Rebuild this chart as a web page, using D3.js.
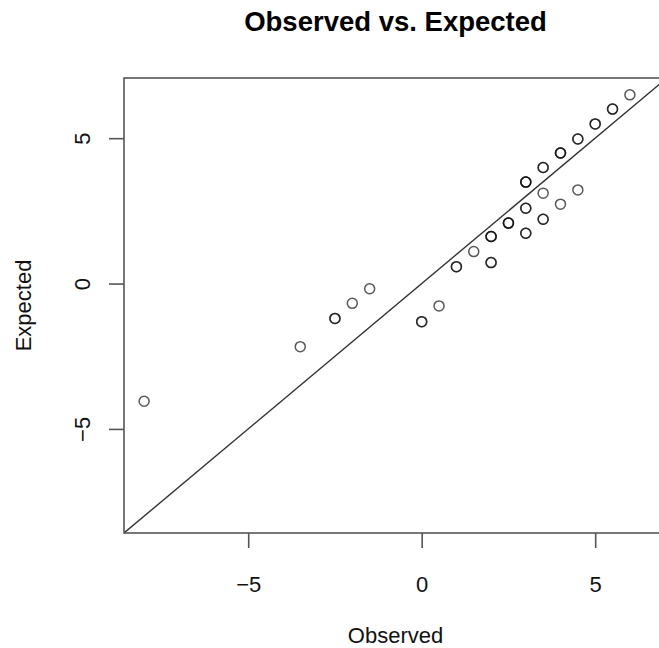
<!DOCTYPE html>
<html>
<head>
<meta charset="utf-8">
<script src="https://cdn.jsdelivr.net/npm/d3@7"></script>
<style>
  html, body { margin: 0; padding: 0; background: #fff; }
  svg { display: block; font-family: "Liberation Sans", Arial, sans-serif; }
</style>
</head>
<body>
<div id="chart"></div>
<script>
// observed / expected pairs; counts = how many points sit on the same spot
const observed = [-8, -3.5, -2.5, -2, -1.5, 0, 0.5, 1, 1.5, 2, 2, 2.5, 3, 3, 3, 3.5, 3.5, 3.5, 4, 4, 4.5, 4.5, 5, 5.5, 6];
const expected = [-4.05, -2.17, -1.2, -0.68, -0.18, -1.31, -0.77, 0.58, 1.1, 0.72, 1.62, 2.08, 1.73, 2.59, 3.49, 2.21, 3.11, 3.99, 2.73, 4.49, 3.22, 4.97, 5.49, 6.0, 6.49];
const counts   = [1, 1, 2, 1, 1, 2, 1, 2, 1, 2, 3, 3, 2, 2, 3, 2, 1, 2, 1, 3, 1, 2, 2, 2, 1];

const tickValues = [-5, 0, 5];
const title = "Observed vs. Expected";
const xTitle = "Observed";
const yTitle = "Expected";

// set the dimensions and margins of the plot
const width = 659, height = 648;
const margin = { top: 78, right: -8, bottom: 115, left: 124 };

// R-style limits: common range of both variables, padded by 4%
const all = observed.concat(expected);
const [lo, hi] = d3.extent(all);
const pad = (hi - lo) * 0.04;
const lim = [lo - pad, hi + pad];

const x = d3.scaleLinear().domain(lim).range([margin.left, width - margin.right]);
const y = d3.scaleLinear().domain(lim).range([height - margin.bottom, margin.top]);

const points = [];
observed.forEach((o, i) => {
    for (let k = 0; k < counts[i]; k++) points.push({ obs: o, exp: expected[i] });
});

const svg = d3.select("#chart").append("svg")
    .attr("width", width)
    .attr("height", height);

svg.append("clipPath")
    .attr("id", "plot-area")
    .append("rect")
    .attr("x", x.range()[0])
    .attr("y", y.range()[1])
    .attr("width", x.range()[1] - x.range()[0])
    .attr("height", y.range()[0] - y.range()[1]);

// identity line y = x
svg.append("line")
    .attr("clip-path", "url(#plot-area)")
    .attr("x1", x(lim[0])).attr("y1", y(lim[0]))
    .attr("x2", x(lim[1])).attr("y2", y(lim[1]))
    .attr("stroke", "#333")
    .attr("stroke-width", 1.4);

svg.append("g")
    .attr("fill", "none")
    .attr("stroke", "#111")
    .attr("stroke-width", 1.5)
    .attr("stroke-opacity", 0.7)
    .selectAll("circle")
    .data(points)
    .join("circle")
    .attr("cx", d => x(d.obs))
    .attr("cy", d => y(d.exp))
    .attr("r", 5);

// box
svg.append("rect")
    .attr("x", x.range()[0])
    .attr("y", y.range()[1])
    .attr("width", x.range()[1] - x.range()[0])
    .attr("height", y.range()[0] - y.range()[1])
    .attr("fill", "none")
    .attr("stroke", "#555")
    .attr("stroke-width", 1.6);

// axes
const xAxis = svg.append("g")
    .attr("transform", `translate(0,${y.range()[0]})`)
    .call(d3.axisBottom(x).tickValues(tickValues).tickSize(15).tickPadding(28).tickSizeOuter(0));

const yAxis = svg.append("g")
    .attr("transform", `translate(${x.range()[0]},0)`)
    .call(d3.axisLeft(y).tickValues(tickValues).tickSize(15).tickSizeOuter(0));

[xAxis, yAxis].forEach(g => {
    g.select(".domain").remove();
    g.selectAll(".tick line").attr("stroke", "#555").attr("stroke-width", 1.6);
    g.selectAll(".tick text")
        .attr("fill", "#111")
        .attr("font-family", "Liberation Sans, Arial, sans-serif")
        .attr("font-size", 22);
});

yAxis.selectAll(".tick text")
    .attr("x", 0).attr("y", 0).attr("dy", 0)
    .attr("text-anchor", "middle")
    .attr("transform", "translate(-34,0) rotate(-90)");

// titles
svg.append("text")
    .attr("x", d3.mean(x.range()))
    .attr("y", 31)
    .attr("text-anchor", "middle")
    .attr("font-weight", "bold")
    .attr("font-size", 27.5)
    .text(title);

svg.append("text")
    .attr("x", d3.mean(x.range()))
    .attr("y", 643)
    .attr("text-anchor", "middle")
    .attr("font-size", 22)
    .attr("fill", "#111")
    .text(xTitle);

svg.append("text")
    .attr("transform", `translate(31,${d3.mean(y.range())}) rotate(-90)`)
    .attr("text-anchor", "middle")
    .attr("font-size", 22)
    .attr("fill", "#111")
    .text(yTitle);
</script>
</body>
</html>
